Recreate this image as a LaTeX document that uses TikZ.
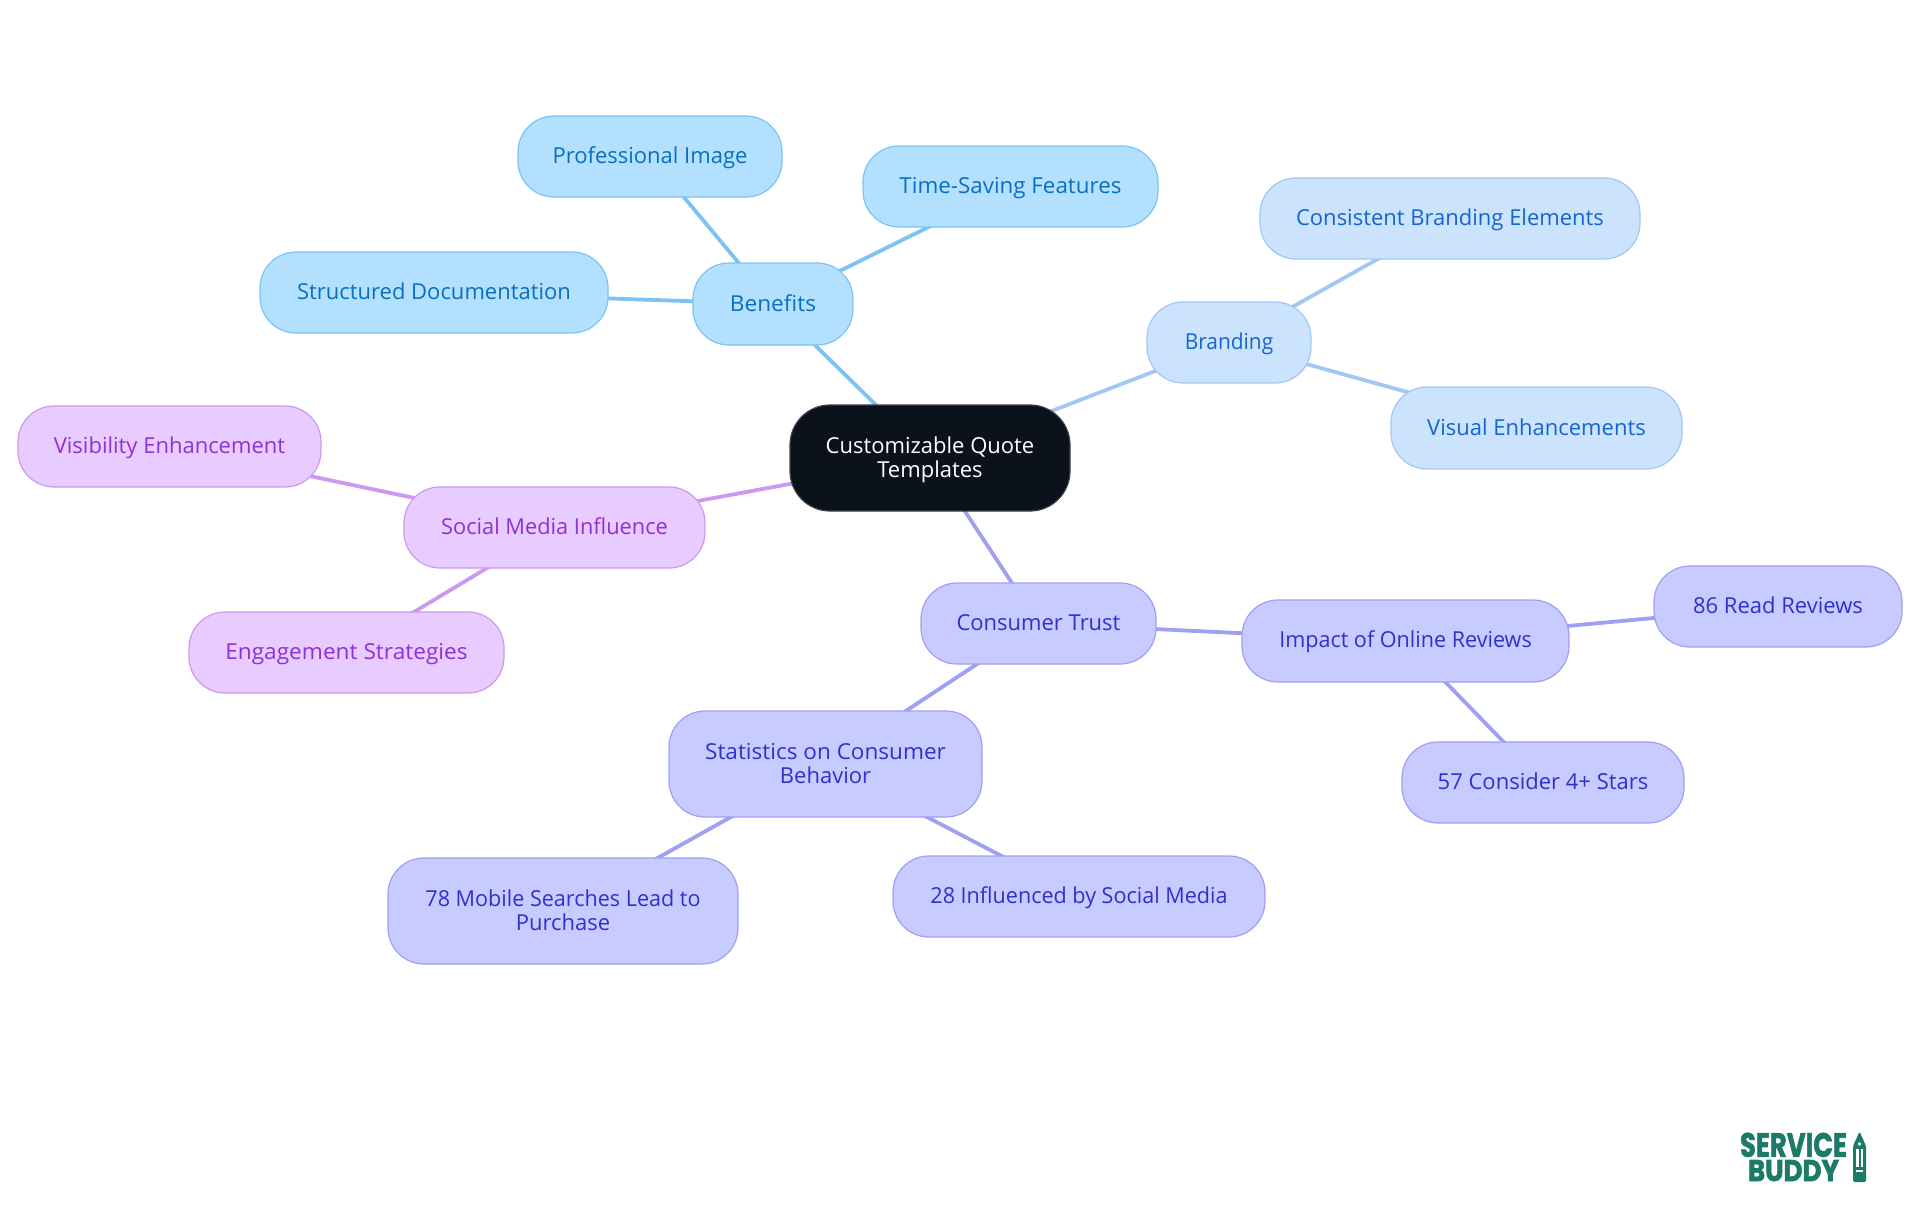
\documentclass[tikz,border=0pt]{standalone}
\usepackage{fontspec}
\usepackage{graphicx}
\usetikzlibrary{backgrounds}
\setmainfont{Open Sans}
\newfontfamily\logofont[FakeBold=2]{Poppins Bold}
\newcommand\tightstrut{\rule[-5pt]{0pt}{24pt}}
\newcommand\sx[2]{\scalebox{#1}[1]{#2}}
\definecolor{rootfill}{HTML}{0B121B}
\definecolor{bfill}{HTML}{B3E0FF}\definecolor{bline}{HTML}{7CC3F3}\definecolor{btext}{HTML}{0A6FBF}
\definecolor{gfill}{HTML}{CCE3FD}\definecolor{gline}{HTML}{A0C8F2}\definecolor{gtext}{HTML}{1565D0}
\definecolor{sfill}{HTML}{E8CBFF}\definecolor{sline}{HTML}{CC99F0}\definecolor{stext}{HTML}{9030D8}
\definecolor{tfill}{HTML}{C8CBFF}\definecolor{tline}{HTML}{9EA0F2}\definecolor{ttext}{HTML}{3030CC}
\definecolor{logogreen}{HTML}{1B7A68}
\tikzset{
  box/.style={rounded corners=36pt,line width=1.2pt,align=center,inner sep=0pt,outer sep=0pt,
    font=\fontsize{22}{24}\selectfont,
    execute at begin node=\tightstrut,execute at end node=\tightstrut},
  rootbox/.style={box,rounded corners=40pt,fill=rootfill,draw=rootfill!80!white,text=white},
  bbox/.style={box,fill=bfill,draw=bline,text=btext},
  gbox/.style={box,fill=gfill,draw=gline,text=gtext},
  sbox/.style={box,fill=sfill,draw=sline,text=stext},
  tbox/.style={box,fill=tfill,draw=tline,text=ttext},
  bedge/.style={line width=3.8pt,draw=bline},
  gedge/.style={line width=3.8pt,draw=gline},
  sedge/.style={line width=3.8pt,draw=sline},
  tedge/.style={line width=3.8pt,draw=tline},
  logotext/.style={inner sep=0pt,outer sep=0pt,text=logogreen,align=center,font=\fontsize{5}{5}\selectfont},
}
\begin{document}
\begin{tikzpicture}[x=1pt,y=-1pt]
\useasboundingbox (0,0) rectangle (1920,1215);
\node[rootbox,minimum width=280pt,minimum height=106pt] (root) at (930,458) {\rule{0pt}{19.5pt}Customizable Quote\\Templates};
\node[bbox,minimum width=160pt,minimum height=82pt] (benefits) at (773,304) {\sx{1.03}{Benefits}};
\node[bbox,minimum width=264pt,minimum height=81pt] (prof) at (650,156.5) {Professional Image};
\node[bbox,minimum width=295pt,minimum height=81pt] (time) at (1010.5,186.5) {\sx{1.017}{Time-Saving Features}};
\node[bbox,minimum width=348pt,minimum height=81pt] (struct) at (434,292.5) {Structured Documentation};
\node[gbox,minimum width=164pt,minimum height=81pt] (branding) at (1229,342.5) {\sx{0.95}{Branding}};
\node[gbox,minimum width=380pt,minimum height=81pt] (consistent) at (1450,218.5) {Consistent Branding Elements};
\node[gbox,minimum width=291pt,minimum height=82pt] (visual) at (1536.5,428) {Visual Enhancements};
\node[sbox,minimum width=301pt,minimum height=81pt] (social) at (554.5,527.5) {\sx{0.99}{Social Media Influence}};
\node[sbox,minimum width=303pt,minimum height=81pt] (visibility) at (169.5,446.5) {Visibility Enhancement};
\node[sbox,minimum width=315pt,minimum height=81pt] (engagement) at (346.5,652.5) {\sx{1.03}{Engagement Strategies}};
\node[tbox,minimum width=235pt,minimum height=81pt] (trust) at (1038.5,623.5) {Consumer Trust};
\node[tbox,minimum width=327pt,minimum height=82pt] (impact) at (1405.5,641) {\sx{0.98}{Impact of Online Reviews}};
\node[tbox,minimum width=248pt,minimum height=81pt] (readrev) at (1778,606.5) {86 Read Reviews};
\node[tbox,minimum width=282pt,minimum height=81pt] (stars) at (1543,782.5) {57 Consider 4+ Stars};
\node[tbox,minimum width=313pt,minimum height=106pt] (stats) at (825.5,764) {\rule{0pt}{20.5pt}\sx{1.025}{Statistics on Consumer}\\Behavior};
\node[tbox,minimum width=350pt,minimum height=106pt] (mobile) at (563,911) {\rule{0pt}{20.5pt}\sx{0.98}{78 Mobile Searches Lead to}\\Purchase};
\node[tbox,minimum width=372pt,minimum height=81pt] (influenced) at (1079,896.5) {\sx{0.98}{28 Influenced by Social Media}};
\begin{scope}[on background layer]
\draw[bedge] (root.center) -- (benefits.center);
\draw[bedge] (benefits.center) -- (prof.center);
\draw[bedge] (benefits.center) -- (time.center);
\draw[bedge] (benefits.center) -- (struct.center);
\draw[gedge] (root.center) -- (branding.center);
\draw[gedge] (branding.center) -- (consistent.center);
\draw[gedge] (branding.center) -- (visual.center);
\draw[sedge] (root.center) -- (social.center);
\draw[sedge] (social.center) -- (visibility.center);
\draw[sedge] (social.center) -- (engagement.center);
\draw[tedge] (root.center) -- (trust.center);
\draw[tedge] (trust.center) -- (impact.center);
\draw[tedge] (trust.center) -- (stats.center);
\draw[tedge] (impact.center) -- (readrev.center);
\draw[tedge] (impact.center) -- (stars.center);
\draw[tedge] (stats.center) -- (mobile.center);
\draw[tedge] (stats.center) -- (influenced.center);
\end{scope}
\node[logotext] (logo) at (1793.5,1157) {\resizebox{107pt}{24pt}{\logofont SERVICE}\\[2pt]\resizebox{91pt}{21pt}{\logofont BUDDY}};
% pencil
\fill[logogreen,rounded corners=1.5pt] (1859.5,1131.5) -- (1866,1146) -- (1866,1182) -- (1853,1182) -- (1853,1146) -- cycle;
\fill[white] (1859.5,1144) circle (1.8);
\fill[white] (1855.8,1149) rectangle (1858.6,1167);
\fill[white] (1860.6,1149) rectangle (1863.4,1167);
\fill[white] (1855.8,1170) rectangle (1863.4,1172);
\end{tikzpicture}
\end{document}
